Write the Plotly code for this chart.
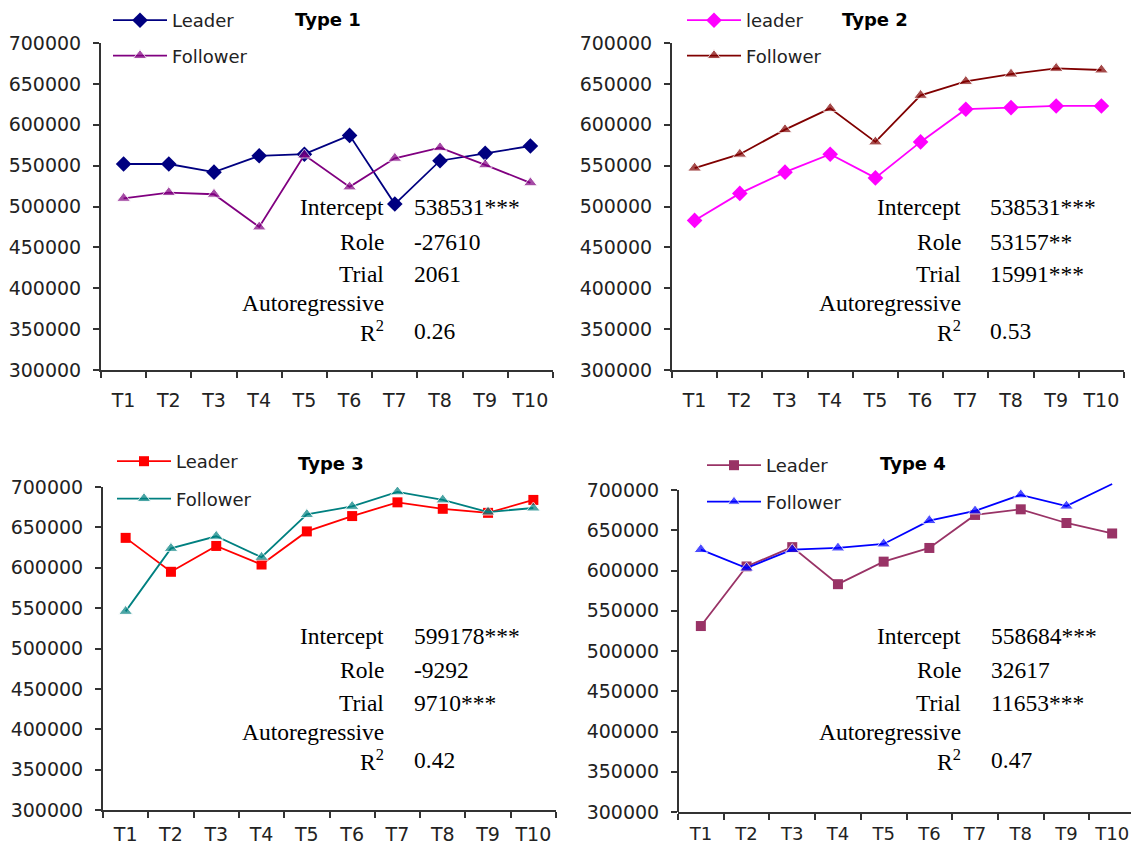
import plotly.graph_objects as go

# Page has an 8px body margin: figure is drawn 8px in from the top-left of the window.
OFF = 8
WIN_W, WIN_H = 1139, 854
FW, FH = WIN_W - 2 * OFF, WIN_H - 2 * OFF

trials = ["T1", "T2", "T3", "T4", "T5", "T6", "T7", "T8", "T9", "T10"]

type1_leader = [552000, 552000, 542000, 562000, 564000, 587000, 503000, 556000, 565000, 574000]
type1_follower = [510000, 517000, 515000, 475000, 563000, 524000, 559000, 572000, 551000, 529000]

type2_leader = [483000, 516000, 542000, 564000, 535000, 579000, 619000, 621000, 623000, 623000]
type2_follower = [547000, 564000, 594000, 620000, 579000, 636000, 653000, 662000, 669000, 667000]

type3_leader = [637000, 595000, 627000, 604000, 645000, 664000, 681000, 673000, 668000, 684000]
type3_follower = [546000, 624000, 639000, 613000, 666000, 676000, 694000, 684000, 669000, 674000]

type4_leader = [531000, 605000, 629000, 583000, 611000, 628000, 669000, 676000, 659000, 646000]
type4_follower = [626000, 603000, 626000, 628000, 633000, 662000, 674000, 694000, 680000, 707500]

stat_labels = ["Intercept", "Role", "Trial", "Autoregressive", "R<sup>2</sup>"]
type1_stats = ["538531***", "-27610", "2061", "", "0.26"]
type2_stats = ["538531***", "53157**", "15991***", "", "0.53"]
type3_stats = ["599178***", "-9292", "9710***", "", "0.42"]
type4_stats = ["558684***", "32617", "11653***", "", "0.47"]

y_ticks = [300000, 350000, 400000, 450000, 500000, 550000, 600000, 650000, 700000]


def px(x):
    return (x - OFF) / FW


def py(y):
    return 1 - (y - OFF) / FH


SANS = "DejaVu Sans"
SERIF = "Liberation Serif"

fig = go.Figure()

panels = [
    ("", "Leader", type1_leader, type1_follower, "#000080", "diamond", "#800080", "triangle-up", "Type 1", type1_stats),
    ("2", "leader", type2_leader, type2_follower, "#FF00FF", "diamond", "#800000", "triangle-up", "Type 2", type2_stats),
    ("3", "Leader", type3_leader, type3_follower, "#FF0000", "square", "#008080", "triangle-up", "Type 3", type3_stats),
    ("4", "Leader", type4_leader, type4_follower, "#993366", "square", "#0000FF", "triangle-up", "Type 4", type4_stats),
]

# window-pixel geometry: (x_left, x_right, y_top(700000), y_bottom(300000), ymax, label standoff, x font)
geom = {
    "": (101, 553, 43, 370, 700000, 12, 19),
    "2": (672, 1124, 43, 370, 700000, 12, 19),
    "3": (103, 556, 487, 810, 700000, 6, 19),
    "4": (678, 1135, 490, 812, 710000, 4, 18),
}
# (left, top, group gap)
legend_pos = {"": (108, 2, 9), "2": (682, 2, 9), "3": (112, 443, 11), "4": (702, 447, 10)}
title_pos = {"": (293, 20), "2": (840, 20), "3": (296, 463), "4": (878, 463)}
stat_cols = {"": (386, 412, [207, 242, 274, 303, 331]),
             "2": (963, 988, [207, 242, 274, 303, 331]),
             "3": (386, 412, [636, 670, 703, 732, 760]),
             "4": (963, 989, [636, 670, 703, 732, 760])}

annotations = []
shapes = []
for sfx, lname, lv, fv, lc, ls, fc, fs, title, stats in panels:
    xa = "x" + sfx
    ya = "y" + sfx
    leg = "legend" + sfx
    fsizes = [12] * len(fv)
    if sfx == "4":
        fsizes[-1] = 0
    fig.add_trace(go.Scatter(x=trials, y=lv, name=lname, mode="lines+markers",
                             line=dict(color=lc, width=1.8),
                             marker=dict(symbol=ls, size=12 if ls == "diamond" else 10, color=lc),
                             xaxis=xa, yaxis=ya, legend=leg, legendgroup="l" + sfx))
    fig.add_trace(go.Scatter(x=trials, y=fv, name="Follower", mode="lines+markers",
                             line=dict(color=fc, width=1.8),
                             marker=dict(symbol=fs, size=fsizes, color=fc),
                             xaxis=xa, yaxis=ya, legend=leg, legendgroup="f" + sfx))

    x0, x1, yt, yb, ymax, xstand, xfont = geom[sfx]
    step = (x1 - x0) / 10.0
    x1_vis = min(x1, WIN_W - OFF)
    x_hi = 9.5 - (x1 - x1_vis) / step
    ytop_px = yt - (ymax - 700000) / 400000 * (yb - yt)
    axis_common = dict(showgrid=False, zeroline=False, showline=True,
                       linecolor="#333333", linewidth=2, ticks="outside",
                       ticklen=6, tickwidth=1.5, tickcolor="#333333",
                       tickfont=dict(family=SANS, size=19, color="#222222"),
                       automargin=False)
    fig.update_layout(**{
        "xaxis" + sfx: dict(axis_common, type="category", categoryorder="array", categoryarray=trials,
                            range=[-0.5, x_hi], tickson="boundaries", anchor=ya, tickangle=0,
                            ticklabelstandoff=xstand,
                            tickfont=dict(family=SANS, size=xfont, color="#222222"),
                            domain=[px(x0), min(1.0, px(x1_vis))]),
        "yaxis" + sfx: dict(axis_common, range=[300000, ymax], tickvals=y_ticks, tickformat="d",
                            anchor=xa, domain=[py(yb), min(1.0, py(ytop_px))],
                            ticklabelstandoff=8, showline=(sfx != "4")),
    })
    if sfx == "4":
        shapes.append(dict(type="line", xref="x4 domain", yref="y4", x0=0, x1=0,
                           y0=300000, y1=700000, line=dict(color="#333333", width=2)))

    lx, ly, lgap = legend_pos[sfx]
    fig.update_layout(**{leg: dict(x=px(lx), y=py(ly), xanchor="left", yanchor="top",
                                   bgcolor="rgba(0,0,0,0)", borderwidth=0,
                                   font=dict(family=SANS, size=18, color="#222222"),
                                   tracegroupgap=lgap, itemwidth=54, itemclick=False)})

    tx, ty = title_pos[sfx]
    annotations.append(dict(text="<b>" + title + "</b>", x=px(tx), y=py(ty), xref="paper", yref="paper",
                            xanchor="left", yanchor="middle", showarrow=False,
                            font=dict(family=SANS, size=18, color="#000000")))

    rx, vx, rows = stat_cols[sfx]
    for lab, val, ry in zip(stat_labels, stats, rows):
        annotations.append(dict(text=lab, x=px(rx), y=py(ry), xref="paper", yref="paper",
                                xanchor="right", yanchor="middle", showarrow=False,
                                font=dict(family=SERIF, size=23.5, color="#000000")))
        if val:
            annotations.append(dict(text=val, x=px(vx), y=py(ry), xref="paper", yref="paper",
                                    xanchor="left", yanchor="middle", showarrow=False,
                                    font=dict(family=SERIF, size=23.5, color="#000000")))

fig.update_layout(width=FW, height=FH, margin=dict(l=0, r=0, t=0, b=0, autoexpand=False),
                  paper_bgcolor="white", plot_bgcolor="white",
                  annotations=annotations, shapes=shapes, showlegend=True)

fig.write_html("out.html")
